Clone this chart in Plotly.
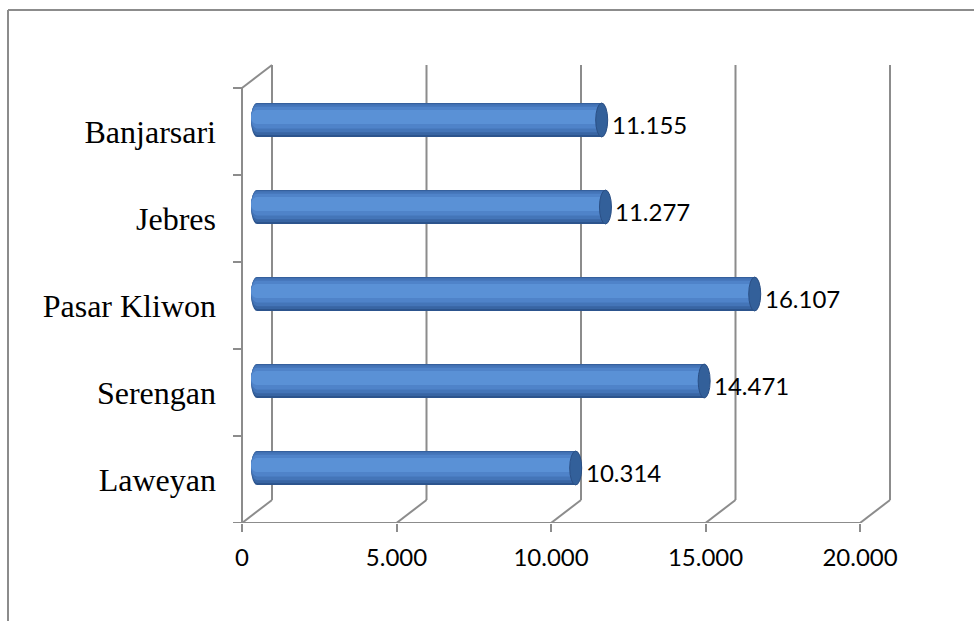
import plotly.graph_objects as go

# Kecamatan (bottom to top) and their counts
categories = ["Laweyan", "Serengan", "Pasar Kliwon", "Jebres", "Banjarsari"]
values = [10314, 14471, 16107, 11277, 11155]
x_ticks = [0, 5000, 10000, 15000, 20000]


def id_fmt(n):
    return f"{n:,}".replace(",", ".")


W, H = 974, 621
# pixel position of value 0 / 20000 on the front floor edge, and of the front wall top / floor
zero_px, full_px = 242, 860
top_px, bottom_px = 88, 523
x_max = x_ticks[-1]
n = len(categories)
px_per_x = (full_px - zero_px) / x_max
px_per_y = (bottom_px - top_px) / n

# pseudo-3D depth of the chart box, in data units
depth_dx = 30 / px_per_x
depth_dy = 23 / px_per_y
tick_len = 9 / px_per_x
grid_col = "#8c8c8c"

# axis ranges wide enough to hold the back wall and side ticks
x_lo, x_hi = -tick_len - 4 / px_per_x, x_max + depth_dx + 4 / px_per_x
y_lo, y_hi = -0.5, n - 0.5 + depth_dy + 4 / px_per_y
x_dom = [(zero_px + x_lo * px_per_x) / W, (zero_px + x_hi * px_per_x) / W]
y_dom = [1 - bottom_px / H, 1 - (bottom_px - (y_hi - y_lo) * px_per_y) / H]

fig = go.Figure()

# cylinder body: nested bars from dark rim to light highlight
layers = [
    (0.39, 0.000, "#2c548d"),
    (0.365, 0.010, "#3865a3"),
    (0.32, 0.020, "#4475b8"),
    (0.25, 0.028, "#4f83c9"),
    (0.16, 0.034, "#5a91d6"),
]
ys = [i + depth_dy / 2 for i in range(n)]
base = depth_dx / 2
for w, off, col in layers:
    fig.add_trace(go.Bar(
        orientation="h",
        x=values,
        y=[y + off for y in ys],
        base=base,
        width=w,
        marker=dict(color=col, line=dict(width=0)),
        hoverinfo="skip",
        showlegend=False,
    ))

shapes = []
line_style = dict(color=grid_col, width=2)

# back wall gridlines and floor diagonals
for v in x_ticks:
    shapes.append(dict(type="line", xref="x", yref="y", layer="below",
                       x0=v + depth_dx, x1=v + depth_dx,
                       y0=-0.5 + depth_dy, y1=n - 0.5 + depth_dy, line=line_style))
    shapes.append(dict(type="line", xref="x", yref="y", layer="below",
                       x0=v, x1=v + depth_dx,
                       y0=-0.5, y1=-0.5 + depth_dy, line=line_style))
# floor front edge
shapes.append(dict(type="line", xref="x", yref="y", layer="below",
                   x0=0, x1=x_max, y0=-0.5, y1=-0.5, line=line_style))
# side wall front edge and top diagonal
shapes.append(dict(type="line", xref="x", yref="y", layer="below",
                   x0=0, x1=0, y0=-0.5, y1=n - 0.5, line=line_style))
shapes.append(dict(type="line", xref="x", yref="y", layer="below",
                   x0=0, x1=depth_dx, y0=n - 0.5, y1=n - 0.5 + depth_dy, line=line_style))
# category ticks on the side wall
for k in range(n + 1):
    shapes.append(dict(type="line", xref="x", yref="y", layer="below",
                       x0=-tick_len, x1=0, y0=k - 0.5, y1=k - 0.5, line=line_style))

# rounded left ends (under the bars) and dark right caps (over the bars)
rx = 6 / px_per_x
for y, v in zip(ys, values):
    for w, off, col in layers:
        yc = y + off
        shapes.append(dict(type="circle", xref="x", yref="y", layer="below",
                           x0=base - rx, x1=base + rx,
                           y0=yc - w / 2, y1=yc + w / 2,
                           fillcolor=col, line=dict(width=0)))
    w0 = layers[0][0]
    end = base + v
    shapes.append(dict(type="circle", xref="x", yref="y", layer="above",
                       x0=end - rx, x1=end + rx,
                       y0=y - w0 / 2, y1=y + w0 / 2,
                       fillcolor="#33609a", line=dict(color="#2a4f85", width=1)))

# outer chart border
border = dict(color="#8c8c8c", width=2)
shapes.append(dict(type="line", xref="paper", yref="paper",
                   x0=8 / W, x1=1, y0=1 - 10 / H, y1=1 - 10 / H, line=border))
shapes.append(dict(type="line", xref="paper", yref="paper",
                   x0=8 / W, x1=8 / W, y0=0, y1=1 - 10 / H, line=border))

# value labels
annotations = []
for y, v in zip(ys, values):
    annotations.append(dict(x=base + v, y=y, xref="x", yref="y",
                            text=id_fmt(v), showarrow=False,
                            xanchor="left", yanchor="middle",
                            xshift=8, yshift=-5,
                            font=dict(family="Lato", size=24, color="#000000")))

fig.update_layout(
    width=W, height=H,
    margin=dict(l=0, r=0, t=0, b=0, autoexpand=False),
    paper_bgcolor="white", plot_bgcolor="rgba(0,0,0,0)",
    barmode="overlay",
    shapes=shapes,
    annotations=annotations,
    xaxis=dict(
        domain=x_dom,
        range=[x_lo, x_hi],
        tickvals=x_ticks,
        ticktext=[id_fmt(v) for v in x_ticks],
        ticks="outside", ticklen=8, tickwidth=2, tickcolor=grid_col,
        ticklabelstandoff=5,
        showgrid=False, zeroline=False, showline=False,
        automargin=False,
        tickfont=dict(family="Lato", size=24, color="#000000"),
        fixedrange=True,
    ),
    yaxis=dict(
        domain=y_dom,
        range=[y_lo, y_hi],
        tickvals=list(range(n)),
        ticktext=categories,
        ticks="", ticklabelstandoff=12,
        showgrid=False, zeroline=False, showline=False,
        automargin=False,
        tickfont=dict(family="Liberation Serif", size=32, color="#000000"),
        fixedrange=True,
    ),
)

fig.write_html("out.html")
